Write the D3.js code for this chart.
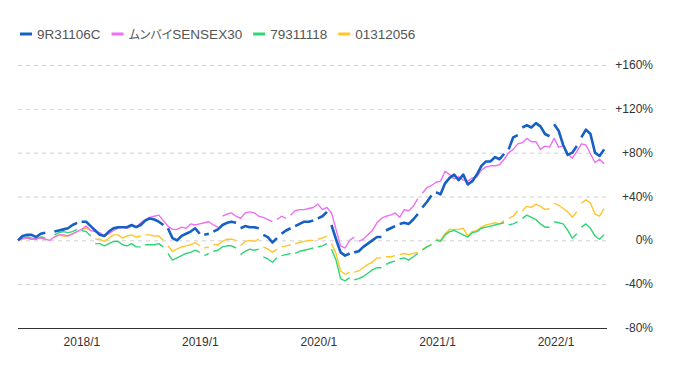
<!DOCTYPE html>
<html>
<head>
<meta charset="utf-8">
<script src="https://cdn.jsdelivr.net/npm/d3@7"></script>
<style>
    body { margin: 0; background: #fff; }
    svg { display: block; }
</style>
</head>
<body>
<div class="Canvas"></div>
<script>
// series names and colours, in legend order
const seriesNames = ['9R31106C', 'ムンバイSENSEX30', '79311118', '01312056'];
const seriesColors = ['#1660c4', '#ef6ff3', '#2fd574', '#ffc62b'];

// one value every two weeks from 2017/6/18, in %
const blue = [0, 4, 5, 5, 3, 6, 7, 6, 8, 9, 10, 11, 14, 16, 17, 17, 13, 9, 5, 4,
    8, 11, 12, 12, 12, 14, 12, 14, 18, 20, 19, 17, 14, 11, 2, 0, 4, 6, 8, 11,
    6, 5, 6, 8, 10, 14, 16, 17, 16, 11, 13, 12, 12, 11, 5, 3, -2, 2, 6, 9,
    11, 13, 15, 17, 17, 18, 20, 22, 26, 14, 1, -11, -14, -12, -11, -10, -6, -3, 0, 3,
    3, 9, 11, 13, 15, 16, 15, 19, 24, 30, 35, 41, 44, 42, 52, 57, 60, 55, 60, 51,
    54, 60, 68, 72, 72, 76, 74, 79, 83, 94, 96, 103, 105, 103, 107, 104, 97, 95, 106, 100,
    87, 78, 80, 86, 94, 101, 97, 80, 77, 83];
const sensex = [0, 2, 2, 1, 2, 2, 1, 0, 3, 5, 5, 4, 6, 8, 10, 13, 9, 8, 7, 4,
    6, 9, 11, 12, 11, 13, 12, 16, 19, 21, 22, 23, 18, 13, 10, 10, 12, 11, 15, 14,
    15, 16, 17, 14, 12, 22, 24, 25, 22, 20, 25, 26, 25, 22, 21, 19, 17, 19, 22, 20,
    23, 27, 28, 28, 29, 30, 33, 28, 30, 25, 10, -5, -7, 0, 3, -1, 1, 5, 9, 16,
    20, 22, 23, 25, 21, 28, 27, 31, 38, 43, 48, 50, 53, 54, 63, 60, 56, 58, 55, 54,
    57, 58, 64, 67, 68, 68, 69, 74, 80, 83, 88, 89, 93, 90, 90, 83, 86, 85, 93, 85,
    86, 79, 75, 81, 88, 87, 79, 71, 74, 70];
const green = [0, 2, 3, 2, 1, 3, 2, 1, 5, 7, 8, 7, 8, 10, 9, 8, 4, -3, -3, -5,
    -3, -1, -1, -4, -5, -3, -6, -6, -4, -4, -4, -3, -6, -12, -18, -16, -14, -12, -11, -9,
    -11, -14, -12, -10, -9, -6, -5, -5, -7, -13, -10, -8, -9, -8, -15, -17, -20, -16, -14, -13,
    -12, -12, -10, -9, -8, -7, -6, -5, -3, -8, -18, -35, -37, -34, -36, -35, -33, -30, -27, -25,
    -25, -22, -20, -19, -17, -16, -18, -15, -12, -9, -6, -4, 0, -1, 5, 8, 9, 7, 5, 3,
    7, 8, 11, 12, 13, 14, 15, 16, 14, 15, 17, 20, 23, 21, 19, 15, 12, 12, 17, 16,
    15, 9, 2, 6, 12, 15, 11, 4, 1, 5];
const yellow = [0, 1, 2, 1, 1, 3, 2, 0, 3, 5, 4, 4, 6, 8, 10, 11, 9, 1, 1, -1,
    2, 5, 5, 2, 4, 5, 3, 4, 5, 5, 4, 4, 0, -5, -10, -8, -6, -5, -4, -2,
    -5, -7, -6, -4, -4, -1, 1, 1, 0, -5, -1, 0, -1, 1, -6, -8, -11, -8, -6, -5,
    -4, -3, -2, -1, 0, 0, 1, 2, 4, -3, -12, -28, -31, -29, -29, -28, -25, -22, -20, -16,
    -16, -15, -15, -14, -13, -12, -13, -12, -11, -8, -6, -4, 1, 0, 6, 10, 10, 10, 11, 4,
    8, 9, 12, 14, 15, 16, 15, 18, 20, 22, 27, 27, 31, 30, 33, 31, 28, 29, 34, 32,
    29, 26, 21, 26, 34, 37, 34, 24, 22, 29];

// missing data: the line is broken between point i and point i+1
const fundBreaks = [6, 7, 13, 32, 40, 42, 48, 53, 57, 60, 65, 68, 73, 80, 83, 88, 91, 107, 110, 117, 123];
const fundExtraBreaks = [16, 27];
const sensexBreaks = [44, 56, 59, 74, 88];

const seriesValues = [blue, sensex, green, yellow];
const seriesBreaks = [fundBreaks, sensexBreaks, fundBreaks.concat(fundExtraBreaks), fundBreaks.concat(fundExtraBreaks)];

const startDate = new Date(2017, 5, 18);
const endDate = new Date(2022, 5, 7);
const stepDays = 14;

const yTicks = [-80, -40, 0, 40, 80, 120, 160];
const xTickDates = [new Date(2018, 0, 1), new Date(2019, 0, 1), new Date(2020, 0, 1), new Date(2021, 0, 1), new Date(2022, 0, 1)];
const xTickLabels = ['2018/1', '2019/1', '2020/1', '2021/1', '2022/1'];

const width = 680;
const height = 366;
const plotLeft = 18;
const plotRight = 607;
const plotTop = 65;
const plotBottom = 328;
const axisFont = '"Liberation Sans", Arial, sans-serif';

const svg = d3.select('.Canvas').append('svg').attr('width', width).attr('height', height);

const x = d3.scaleTime().domain([startDate, endDate]).range([plotLeft, plotRight]);
const y = d3.scaleLinear().domain([-80, 160]).range([plotBottom, plotTop]);

// grid lines (dashed), bottom one is the solid axis line
svg.append('g')
    .selectAll('line')
    .data(yTicks)
    .enter()
    .append('line')
    .attr('x1', plotLeft)
    .attr('x2', plotRight)
    .attr('y1', (d) => y(d) + 0.5)
    .attr('y2', (d) => y(d) + 0.5)
    .attr('stroke', (d) => (d === -80 ? '#333' : '#d0d0d0'))
    .attr('stroke-width', 1)
    .attr('stroke-dasharray', (d) => (d === -80 ? null : '4,4'));

// right side labels
svg.append('g')
    .selectAll('text')
    .data(yTicks)
    .enter()
    .append('text')
    .attr('x', 653)
    .attr('y', (d) => y(d) + 4)
    .attr('text-anchor', 'end')
    .attr('font-family', axisFont)
    .attr('font-size', '12px')
    .attr('fill', '#333')
    .text((d) => (d > 0 ? '+' : '') + d + '%');

// bottom labels
svg.append('g')
    .selectAll('text')
    .data(xTickDates)
    .enter()
    .append('text')
    .attr('x', (d) => x(d))
    .attr('y', 346)
    .attr('text-anchor', 'middle')
    .attr('font-family', axisFont)
    .attr('font-size', '12px')
    .attr('fill', '#333')
    .text((d, i) => xTickLabels[i]);

// turn values into points, putting an undefined point where the line breaks
function toPoints(values, breaks) {
    let pts = [];
    values.forEach((v, i) => {
        pts.push({ date: d3.timeDay.offset(startDate, stepDays * i), v: v });
        if (breaks.includes(i)) pts.push({ date: null, v: null });
    });
    return pts;
}

const line = d3
    .line()
    .defined((d) => d.v != null)
    .x((d) => x(d.date))
    .y((d) => y(d.v));

// blue last so it sits on top
const drawOrder = [3, 2, 1, 0];
drawOrder.forEach((s) => {
    svg.append('path')
        .datum(toPoints(seriesValues[s], seriesBreaks[s]))
        .attr('fill', 'none')
        .attr('stroke', seriesColors[s])
        .attr('stroke-width', s === 0 ? 2.6 : 1.4)
        .attr('stroke-linejoin', 'round')
        .attr('d', line);
});

// legend
const legend = svg.append('g').attr('transform', 'translate(20, 34)');
let lx = 0;
seriesNames.forEach((name, i) => {
    legend.append('line')
        .attr('x1', lx)
        .attr('x2', lx + 12)
        .attr('y1', 0)
        .attr('y2', 0)
        .attr('stroke', seriesColors[i])
        .attr('stroke-width', 3);
    const t = legend.append('text')
        .attr('x', lx + 17)
        .attr('y', 5)
        .attr('font-family', '"Liberation Sans", Arial, "Noto Sans CJK JP", sans-serif')
        .attr('font-size', '13.5px')
        .style('font-feature-settings', '"palt"')
        .attr('fill', '#555');
    // kana are drawn a little smaller, as in the original
    const m = name.match(/^([^\x00-\x7f]*)(.*)$/);
    if (m[1]) t.append('tspan').attr('font-size', '12px').text(m[1]);
    t.append('tspan').text(m[2]);
    lx += 17 + t.node().getComputedTextLength() + 11;
});
</script>
</body>
</html>
